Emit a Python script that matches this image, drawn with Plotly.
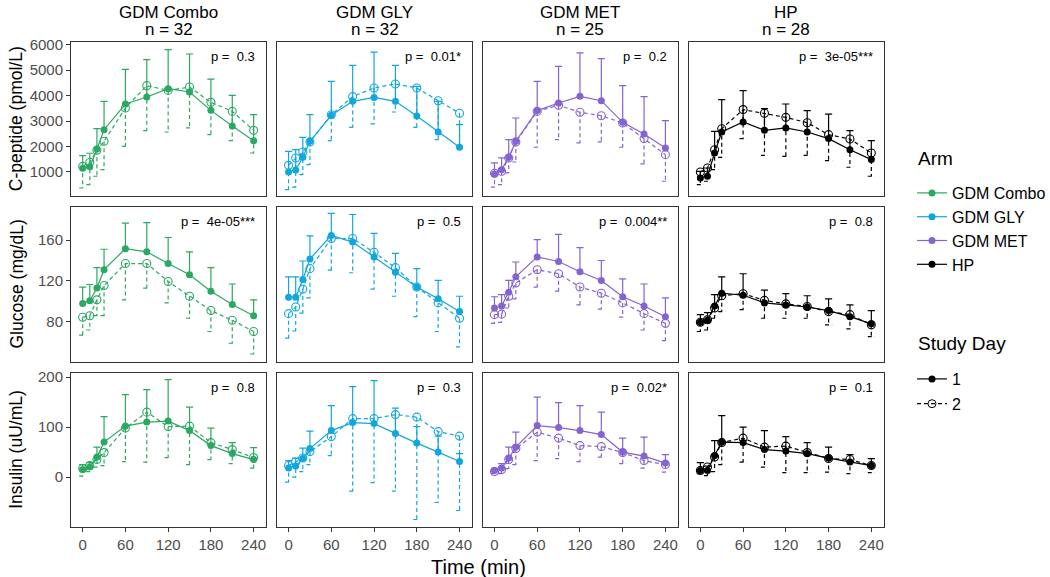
import plotly.graph_objects as go
from plotly.subplots import make_subplots

# =========================
# data
time_min = [0, 10, 20, 30, 60, 90, 120, 150, 180, 210, 240]
arms = ["GDM Combo", "GDM GLY", "GDM MET", "HP"]
arm_n = [32, 32, 25, 28]
arm_colors = ["#2BA862", "#10A7DE", "#8563D0", "#000000"]
analytes = ["C-peptide (pmol/L)", "Glucose (mg/dL)", "Insulin (uU/mL)"]

# C-peptide: study day 1 mean / SD (drawn upward), study day 2 mean / SD (drawn downward)
cpep_day1 = {
    "GDM Combo": [1150, 1200, 1900, 2660, 3670, 3945, 4270, 4140, 3420, 2805, 2230],
    "GDM GLY": [1000, 1080, 1575, 2205, 3225, 3775, 3930, 3775, 3200, 2570, 1970],
    "GDM MET": [920, 1090, 1575, 2205, 3410, 3710, 3970, 3800, 2950, 2490, 1940],
    "HP": [765, 830, 1745, 2570, 2965, 2635, 2730, 2570, 2310, 1875, 1485],
}
cpep_day1_sd = {
    "GDM Combo": [490, 535, 800, 1115, 1360, 1465, 1535, 1495, 1230, 1205, 1020],
    "GDM GLY": [810, 795, 785, 1045, 1335, 1415, 1780, 1415, 1165, 1205, 890],
    "GDM MET": [435, 460, 695, 915, 1150, 1440, 1705, 1650, 1440, 1470, 1075],
    "HP": [260, 325, 850, 1270, 1230, 850, 940, 840, 965, 750, 745],
}
cpep_day2 = {
    "GDM Combo": [1220, 1380, 1850, 2205, 3515, 4390, 4205, 4335, 3735, 3380, 2635],
    "GDM GLY": [1260, 1550, 1785, 2180, 3250, 3960, 4300, 4455, 4300, 3800, 3305],
    "GDM MET": [950, 1025, 1550, 2180, 3380, 3620, 3345, 3210, 2925, 2310, 1680],
    "HP": [1000, 1155, 1875, 2700, 3450, 3305, 3145, 2935, 2465, 2295, 1745],
}
cpep_day2_sd = {
    "GDM Combo": [850, 880, 1020, 1115, 1510, 1765, 1635, 1605, 1270, 1150, 890],
    "GDM GLY": [955, 1150, 890, 890, 1020, 1205, 1415, 1100, 1545, 1530, 1320],
    "GDM MET": [550, 525, 590, 790, 1410, 1350, 1205, 1030, 955, 995, 1045],
    "HP": [500, 520, 785, 1125, 1140, 1650, 1530, 1280, 1020, 1110, 915],
}

# Glucose
gluc_day1 = {
    "GDM Combo": [98, 100.5, 113, 131, 151.5, 148.5, 137, 126, 110, 97, 86],
    "GDM GLY": [104, 104, 121.5, 141.5, 164.5, 158, 143.5, 128.5, 114, 102.5, 90],
    "GDM MET": [93.5, 95.5, 109, 124, 143.5, 139, 129, 120.5, 104.5, 95.5, 85],
    "HP": [79.5, 81.5, 95.5, 108, 106, 98.5, 96.5, 94.5, 91, 85, 78],
}
gluc_day1_sd = {
    "GDM Combo": [16, 16, 20, 20, 25, 28.5, 25.5, 22.5, 23, 20, 15.5],
    "GDM GLY": [20, 20, 18, 22.5, 21.5, 27, 23, 18.5, 18, 18, 15],
    "GDM MET": [11, 11, 11.5, 14.5, 17, 26.5, 23.5, 19.5, 17.5, 21.5, 18.5],
    "HP": [7.5, 7.5, 11, 16, 21, 12.5, 11, 11, 11.5, 11.5, 13],
}
gluc_day2 = {
    "GDM Combo": [84.5, 86, 101.5, 115.5, 137, 137, 119.5, 105, 91, 81.5, 70.5],
    "GDM GLY": [88, 94.5, 112, 132, 161.5, 161.5, 148, 133, 114, 98.5, 83.5],
    "GDM MET": [87, 87.5, 105, 118, 131, 127, 114, 108, 98.5, 88, 78.5],
    "HP": [79.5, 82, 93.5, 105.5, 107.5, 101, 97.5, 95, 90, 87, 77],
}
gluc_day2_sd = {
    "GDM Combo": [17.5, 14, 15.5, 29.5, 35.5, 24, 21, 21.5, 20.5, 22.5, 22],
    "GDM GLY": [24, 23.5, 23.5, 28.5, 31, 33.5, 36, 28, 29, 28, 28],
    "GDM MET": [8.5, 8, 11.5, 15.5, 17, 17, 17.5, 15.5, 14, 16, 17],
    "HP": [9, 10, 10, 15.5, 15.5, 17.5, 14, 11.5, 13, 14, 11.5],
}

# Insulin
ins_day1 = {
    "GDM Combo": [15, 20, 40, 70, 102, 110, 112, 93, 63, 47, 35],
    "GDM GLY": [18, 22, 37, 57, 93, 109, 107, 87, 68, 50, 31],
    "GDM MET": [13, 18, 38, 60, 103, 99, 93, 85, 50, 42, 28],
    "HP": [13, 13, 43, 70, 69, 55, 52, 47, 38, 30, 23],
}
ins_day1_sd = {
    "GDM Combo": [10, 9, 20, 51, 63, 65, 83, 47, 35, 22, 24],
    "GDM GLY": [15, 16, 21, 35, 50, 72, 86, 51, 33, 32, 16],
    "GDM MET": [4, 9, 22, 30, 57, 50, 50, 45, 28, 38, 17],
    "HP": [16, 9, 30, 53, 31, 38, 29, 22, 22, 15, 14],
}
ins_day2 = {
    "GDM Combo": [17, 23, 35, 49, 98, 130, 101, 102, 69, 55, 39],
    "GDM GLY": [23, 30, 38, 51, 81, 117, 117, 125, 120, 91, 82],
    "GDM MET": [11, 15, 35, 57, 90, 78, 63, 61, 49, 33, 25],
    "HP": [13, 20, 40, 69, 78, 60, 62, 49, 37, 35, 23],
}
ins_day2_sd = {
    "GDM Combo": [15, 12, 15, 26, 67, 100, 62, 77, 34, 28, 21],
    "GDM GLY": [33, 30, 27, 26, 38, 145, 128, 153, 205, 142, 149],
    "GDM MET": [4, 8, 18, 32, 57, 41, 32, 21, 22, 15, 15],
    "HP": [6, 17, 29, 44, 48, 40, 53, 40, 27, 28, 14],
}

p_cpep = ["0.3", "0.01*", "0.2", "3e-05***"]
p_gluc = ["4e-05***", "0.5", "0.004**", "0.8"]
p_ins = ["0.8", "0.3", "0.02*", "0.1"]

x_ticks = [0, 60, 120, 180, 240]
cpep_ticks = [1000, 2000, 3000, 4000, 5000, 6000]
gluc_ticks = [80, 120, 160]
ins_ticks = [0, 100, 200]

# =========================
# layout helpers
FONT = "Liberation Sans, Arial, sans-serif"
L, R, T, B = 71, 166, 42, 50
W, H = 1050, 577
PLOT_W = W - L - R
PLOT_H = H - T - B


def px_x(px):
    return (px - L) / PLOT_W


def px_y(py):
    return (H - B - py) / PLOT_H


def bar_path(times, means, sds, sign, cap=5):
    xs, ys = [], []
    for t, m, s in zip(times, means, sds):
        end = m + sign * s
        xs += [t, t, None, t - cap, t + cap, None]
        ys += [m, end, None, end, end, None]
    return xs, ys


rows = [
    (cpep_day1, cpep_day1_sd, cpep_day2, cpep_day2_sd, p_cpep, cpep_ticks, [42, 6106]),
    (gluc_day1, gluc_day1_sd, gluc_day2, gluc_day2_sd, p_gluc, gluc_ticks, [41, 192]),
    (ins_day1, ins_day1_sd, ins_day2, ins_day2_sd, p_ins, ins_ticks, [-100, 209]),
]

fig = make_subplots(rows=3, cols=4, horizontal_spacing=0.013, vertical_spacing=0.0227)

annotations = []
for r, (d1, d1sd, d2, d2sd, pvals, yticks, yrange) in enumerate(rows, start=1):
    for c, arm in enumerate(arms, start=1):
        col = arm_colors[c - 1]
        # mean lines, then error bars (day 1 up / solid, day 2 down / dashed), then points
        fig.add_trace(go.Scatter(x=time_min, y=d1[arm], mode="lines",
                                 line=dict(color=col, width=1.2),
                                 showlegend=False, hoverinfo="skip"), row=r, col=c)
        fig.add_trace(go.Scatter(x=time_min, y=d2[arm], mode="lines",
                                 line=dict(color=col, width=1.2, dash="4px,3px"),
                                 showlegend=False, hoverinfo="skip"), row=r, col=c)
        bx, by = bar_path(time_min, d1[arm], d1sd[arm], 1)
        fig.add_trace(go.Scatter(x=bx, y=by, mode="lines",
                                 line=dict(color=col, width=1.2),
                                 showlegend=False, hoverinfo="skip"), row=r, col=c)
        bx, by = bar_path(time_min, d2[arm], d2sd[arm], -1)
        fig.add_trace(go.Scatter(x=bx, y=by, mode="lines",
                                 line=dict(color=col, width=1.2, dash="4px,3px"),
                                 showlegend=False, hoverinfo="skip"), row=r, col=c)
        fig.add_trace(go.Scatter(x=time_min, y=d1[arm], mode="markers",
                                 marker=dict(color=col, size=7, symbol="circle"),
                                 showlegend=False), row=r, col=c)
        fig.add_trace(go.Scatter(x=time_min, y=d2[arm], mode="markers",
                                 marker=dict(color=col, size=8, symbol="circle-open",
                                             line=dict(width=1.1)),
                                 showlegend=False), row=r, col=c)

        idx = (r - 1) * 4 + c
        sfx = "" if idx == 1 else str(idx)
        annotations.append(dict(
            text="p =  " + pvals[c - 1], xref="x%s domain" % sfx, yref="y%s domain" % sfx,
            x=0.952, y=0.907, xanchor="right", yanchor="middle", showarrow=False,
            font=dict(size=13, color="black", family=FONT)))
        if r == 1:
            # facet strip: arm name and group size on two lines
            annotations.append(dict(
                text=arm, xref="x%s domain" % sfx, yref="paper", x=0.5, y=px_y(12),
                xanchor="center", yanchor="middle", showarrow=False,
                font=dict(size=17, color="black", family=FONT)))
            annotations.append(dict(
                text="n = %d" % arm_n[c - 1], xref="x%s domain" % sfx, yref="paper",
                x=0.5, y=px_y(29), xanchor="center", yanchor="middle", showarrow=False,
                font=dict(size=17, color="black", family=FONT)))
        if c == 1:
            annotations.append(dict(
                text=analytes[r - 1], xref="paper", yref="y%s domain" % sfx,
                x=px_x(16), y=0.5, textangle=-90, xanchor="center", yanchor="middle",
                showarrow=False, font=dict(size=17.5, color="black", family=FONT)))

        fig.update_xaxes(range=[-16.4, 257.8], tickvals=x_ticks,
                         showticklabels=(r == 3), ticks="outside" if r == 3 else "",
                         ticklen=4, tickcolor="#333333", row=r, col=c)
        fig.update_yaxes(range=yrange, tickvals=yticks,
                         showticklabels=(c == 1), ticks="outside" if c == 1 else "",
                         ticklen=4, tickcolor="#333333", row=r, col=c)

annotations.append(dict(
    text="Time (min)", xref="paper", yref="paper", x=px_x(478), y=px_y(567),
    xanchor="center", yanchor="middle", showarrow=False,
    font=dict(size=20, color="black", family=FONT)))

# legend titles
annotations.append(dict(
    text="Arm", xref="paper", yref="paper", x=px_x(916), y=px_y(158),
    xanchor="left", yanchor="middle", showarrow=False,
    font=dict(size=19, color="black", family=FONT)))
annotations.append(dict(
    text="Study Day", xref="paper", yref="paper", x=px_x(916), y=px_y(343),
    xanchor="left", yanchor="middle", showarrow=False,
    font=dict(size=19, color="black", family=FONT)))

# legend entries
for i, arm in enumerate(arms):
    fig.add_trace(go.Scatter(x=[None], y=[None], mode="lines+markers", name=arm,
                             line=dict(color=arm_colors[i], width=1.2),
                             marker=dict(color=arm_colors[i], size=7),
                             legend="legend", legendgroup="arm"))
fig.add_trace(go.Scatter(x=[None], y=[None], mode="lines+markers", name="1",
                         line=dict(color="black", width=1.2),
                         marker=dict(color="black", size=7),
                         legend="legend2", legendgroup="d1"))
fig.add_trace(go.Scatter(x=[None], y=[None], mode="lines+markers", name="2",
                         line=dict(color="black", width=1.2, dash="4px,3px"),
                         marker=dict(color="black", size=8, symbol="circle-open"),
                         legend="legend2", legendgroup="d2"))

fig.update_xaxes(showgrid=False, zeroline=False, showline=True, mirror=True,
                 linecolor="#333333", linewidth=1,
                 tickfont=dict(size=15, color="#4D4D4D", family=FONT))
fig.update_yaxes(showgrid=False, zeroline=False, showline=True, mirror=True,
                 linecolor="#333333", linewidth=1,
                 tickfont=dict(size=15, color="#4D4D4D", family=FONT))

fig.update_layout(
    width=W, height=H,
    margin=dict(l=L, r=R, t=T, b=B, autoexpand=False),
    plot_bgcolor="white",
    paper_bgcolor="white",
    font=dict(family=FONT, color="black"),
    annotations=annotations,
    legend=dict(x=px_x(912), y=px_y(176), xanchor="left", yanchor="top",
                font=dict(size=16), tracegroupgap=0, bgcolor="rgba(0,0,0,0)"),
    legend2=dict(x=px_x(912), y=px_y(362), xanchor="left", yanchor="top",
                 font=dict(size=16), tracegroupgap=1, bgcolor="rgba(0,0,0,0)"),
)

fig.write_html("out.html", config={"displayModeBar": False},
               post_script="document.body.style.margin='0';")
